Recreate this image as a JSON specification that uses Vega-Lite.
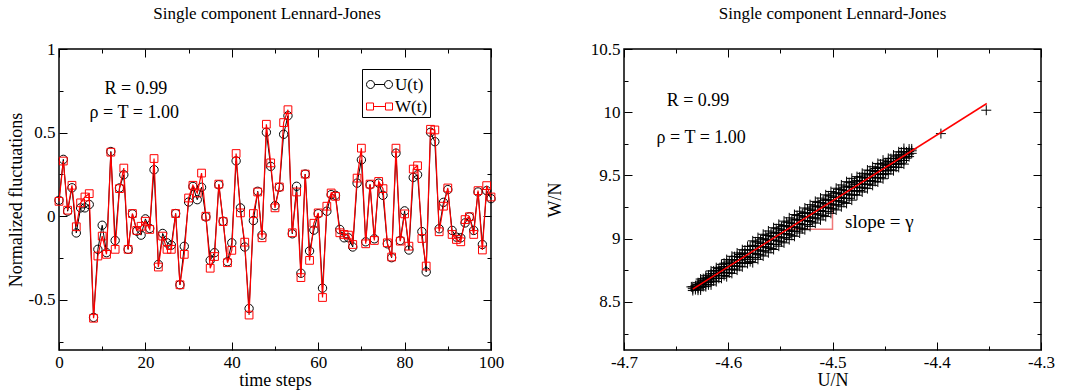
{
"$schema": "https://vega.github.io/schema/vega-lite/v6.json",
"background": "white",
"padding": {"left": 6, "top": 4, "right": 0, "bottom": 0},
"spacing": 40,
"config": {
  "font": "Liberation Serif",
  "view": {"stroke": "black", "strokeWidth": 1.5},
  "axis": {"grid": false, "domain": false, "labelFont": "Liberation Serif", "labelFontSize": 17, "labelColor": "black", "titleFont": "Liberation Serif", "titleFontSize": 18, "titleFontWeight": "normal", "titleColor": "black", "tickColor": "black", "tickWidth": 1, "labelFlush": false, "labelOverlap": false},
  "title": {"font": "Liberation Serif", "fontSize": 17, "fontWeight": "normal", "color": "black"}
},
"datasets": {
  "ts": [
    {"t":0,"U":0.095,"W":0.089},{"t":1,"U":0.34,"W":0.33},{"t":2,"U":0.03,"W":0.036},{"t":3,"U":0.17,"W":0.185},{"t":4,"U":-0.1,"W":-0.063},
    {"t":5,"U":0.05,"W":0.08},{"t":6,"U":0.05,"W":0.115},{"t":7,"U":0.07,"W":0.135},{"t":8,"U":-0.605,"W":-0.61},{"t":9,"U":-0.198,"W":-0.238},
    {"t":10,"U":-0.054,"W":-0.119},{"t":11,"U":-0.218,"W":-0.228},{"t":12,"U":0.387,"W":0.383},{"t":13,"U":-0.145,"W":-0.198},{"t":14,"U":0.169,"W":0.165},
    {"t":15,"U":0.248,"W":0.288},{"t":16,"U":-0.198,"W":-0.198},{"t":17,"U":0.014,"W":0.016},{"t":18,"U":-0.089,"W":-0.085},{"t":19,"U":-0.113,"W":-0.06},
    {"t":20,"U":-0.016,"W":-0.03},{"t":21,"U":-0.073,"W":-0.079},{"t":22,"U":0.278,"W":0.345},{"t":23,"U":-0.288,"W":-0.304},{"t":24,"U":-0.103,"W":-0.119},
    {"t":25,"U":-0.159,"W":-0.198},{"t":26,"U":-0.173,"W":-0.198},{"t":27,"U":0.016,"W":0.016},{"t":28,"U":-0.41,"W":-0.41},{"t":29,"U":-0.18,"W":-0.228},
    {"t":30,"U":0.085,"W":0.109},{"t":31,"U":0.178,"W":0.185},{"t":32,"U":0.099,"W":0.139},{"t":33,"U":0.173,"W":0.258},{"t":34,"U":-0.004,"W":0.0},
    {"t":35,"U":-0.264,"W":-0.311},{"t":36,"U":-0.218,"W":-0.241},{"t":37,"U":0.188,"W":0.192},{"t":38,"U":-0.03,"W":-0.032},{"t":39,"U":-0.272,"W":-0.278},
    {"t":40,"U":-0.159,"W":-0.204},{"t":41,"U":0.331,"W":0.375},{"t":42,"U":0.05,"W":0.02},{"t":43,"U":-0.184,"W":-0.155},{"t":44,"U":-0.552,"W":-0.591},
    {"t":45,"U":-0.026,"W":0.016},{"t":46,"U":0.149,"W":0.145},{"t":47,"U":-0.113,"W":-0.129},{"t":48,"U":0.502,"W":0.55},{"t":49,"U":0.298,"W":0.319},
    {"t":50,"U":0.063,"W":0.05},{"t":51,"U":0.173,"W":0.175},{"t":52,"U":0.49,"W":0.56},{"t":53,"U":0.601,"W":0.637},{"t":54,"U":-0.105,"W":-0.099},
    {"t":55,"U":0.179,"W":0.145},{"t":56,"U":-0.341,"W":-0.367},{"t":57,"U":0.252,"W":0.252},{"t":58,"U":-0.208,"W":-0.264},{"t":59,"U":-0.083,"W":-0.042},
    {"t":60,"U":0.015,"W":0.02},{"t":61,"U":-0.43,"W":-0.486},{"t":62,"U":0.03,"W":0.06},{"t":63,"U":0.129,"W":0.139},{"t":64,"U":0.125,"W":0.119},
    {"t":65,"U":-0.079,"W":-0.099},{"t":66,"U":-0.129,"W":-0.109},{"t":67,"U":-0.129,"W":-0.113},{"t":68,"U":-0.184,"W":-0.169},{"t":69,"U":0.198,"W":0.228},
    {"t":70,"U":0.337,"W":0.407},{"t":71,"U":-0.153,"W":-0.165},{"t":72,"U":0.188,"W":0.192},{"t":73,"U":-0.135,"W":-0.145},{"t":74,"U":0.198,"W":0.208},
    {"t":75,"U":0.125,"W":0.165},{"t":76,"U":-0.165,"W":-0.159},{"t":77,"U":-0.248,"W":-0.244},{"t":78,"U":0.377,"W":0.407},{"t":79,"U":-0.145,"W":-0.149},
    {"t":80,"U":0.032,"W":0.014},{"t":81,"U":-0.202,"W":-0.179},{"t":82,"U":0.232,"W":0.282},{"t":83,"U":0.248,"W":0.302},{"t":84,"U":-0.092,"W":-0.133},
    {"t":85,"U":-0.333,"W":-0.298},{"t":86,"U":0.502,"W":0.52},{"t":87,"U":0.446,"W":0.516},{"t":88,"U":-0.075,"W":-0.093},{"t":89,"U":0.083,"W":0.06},
    {"t":90,"U":0.159,"W":0.169},{"t":91,"U":-0.085,"W":-0.109},{"t":92,"U":-0.125,"W":-0.139},{"t":93,"U":-0.129,"W":-0.153},{"t":94,"U":-0.04,"W":-0.02},
    {"t":95,"U":-0.004,"W":-0.003},{"t":96,"U":-0.085,"W":-0.109},{"t":97,"U":0.145,"W":0.153},{"t":98,"U":-0.169,"W":-0.202},{"t":99,"U":0.153,"W":0.183},
    {"t":100,"U":0.105,"W":0.115}
  ],
  "cloud": [
    {"u":-4.6354,"w":8.619},{"u":-4.628,"w":8.64},{"u":-4.634,"w":8.59},{"u":-4.634,"w":8.605},{"u":-4.634,"w":8.62},
    {"u":-4.629,"w":8.593},{"u":-4.629,"w":8.608},{"u":-4.629,"w":8.624},{"u":-4.629,"w":8.638},{"u":-4.629,"w":8.652},
    {"u":-4.624,"w":8.622},{"u":-4.624,"w":8.638},{"u":-4.624,"w":8.652},{"u":-4.624,"w":8.668},{"u":-4.624,"w":8.684},
    {"u":-4.619,"w":8.635},{"u":-4.619,"w":8.655},{"u":-4.619,"w":8.676},{"u":-4.619,"w":8.694},{"u":-4.619,"w":8.712},
    {"u":-4.614,"w":8.666},{"u":-4.614,"w":8.686},{"u":-4.614,"w":8.704},{"u":-4.614,"w":8.724},{"u":-4.614,"w":8.745},
    {"u":-4.609,"w":8.687},{"u":-4.609,"w":8.707},{"u":-4.609,"w":8.728},{"u":-4.609,"w":8.746},{"u":-4.609,"w":8.764},
    {"u":-4.604,"w":8.709},{"u":-4.604,"w":8.734},{"u":-4.604,"w":8.756},{"u":-4.604,"w":8.781},{"u":-4.604,"w":8.806},
    {"u":-4.599,"w":8.730},{"u":-4.599,"w":8.754},{"u":-4.599,"w":8.779},{"u":-4.599,"w":8.801},{"u":-4.599,"w":8.823},
    {"u":-4.594,"w":8.761},{"u":-4.594,"w":8.786},{"u":-4.594,"w":8.808},{"u":-4.594,"w":8.833},{"u":-4.594,"w":8.858},
    {"u":-4.589,"w":8.782},{"u":-4.589,"w":8.806},{"u":-4.589,"w":8.831},{"u":-4.589,"w":8.853},{"u":-4.589,"w":8.875},
    {"u":-4.584,"w":8.813},{"u":-4.584,"w":8.838},{"u":-4.584,"w":8.860},{"u":-4.584,"w":8.885},{"u":-4.584,"w":8.910},
    {"u":-4.579,"w":8.819},{"u":-4.579,"w":8.851},{"u":-4.579,"w":8.882},{"u":-4.579,"w":8.911},{"u":-4.579,"w":8.939},
    {"u":-4.574,"w":8.852},{"u":-4.574,"w":8.884},{"u":-4.574,"w":8.912},{"u":-4.574,"w":8.944},{"u":-4.574,"w":8.975},
    {"u":-4.569,"w":8.871},{"u":-4.569,"w":8.903},{"u":-4.569,"w":8.934},{"u":-4.569,"w":8.963},{"u":-4.569,"w":8.991},
    {"u":-4.564,"w":8.904},{"u":-4.564,"w":8.936},{"u":-4.564,"w":8.964},{"u":-4.564,"w":8.996},{"u":-4.564,"w":9.027},
    {"u":-4.559,"w":8.923},{"u":-4.559,"w":8.955},{"u":-4.559,"w":8.986},{"u":-4.559,"w":9.015},{"u":-4.559,"w":9.043},
    {"u":-4.554,"w":8.956},{"u":-4.554,"w":8.988},{"u":-4.554,"w":9.016},{"u":-4.554,"w":9.048},{"u":-4.554,"w":9.079},
    {"u":-4.549,"w":8.975},{"u":-4.549,"w":9.007},{"u":-4.549,"w":9.038},{"u":-4.549,"w":9.067},{"u":-4.549,"w":9.095},
    {"u":-4.544,"w":9.008},{"u":-4.544,"w":9.040},{"u":-4.544,"w":9.068},{"u":-4.544,"w":9.100},{"u":-4.544,"w":9.131},
    {"u":-4.539,"w":9.027},{"u":-4.539,"w":9.059},{"u":-4.539,"w":9.090},{"u":-4.539,"w":9.119},{"u":-4.539,"w":9.147},
    {"u":-4.534,"w":9.060},{"u":-4.534,"w":9.092},{"u":-4.534,"w":9.120},{"u":-4.534,"w":9.152},{"u":-4.534,"w":9.183},
    {"u":-4.529,"w":9.079},{"u":-4.529,"w":9.111},{"u":-4.529,"w":9.142},{"u":-4.529,"w":9.171},{"u":-4.529,"w":9.199},
    {"u":-4.524,"w":9.112},{"u":-4.524,"w":9.144},{"u":-4.524,"w":9.172},{"u":-4.524,"w":9.204},{"u":-4.524,"w":9.235},
    {"u":-4.519,"w":9.131},{"u":-4.519,"w":9.163},{"u":-4.519,"w":9.194},{"u":-4.519,"w":9.223},{"u":-4.519,"w":9.251},
    {"u":-4.514,"w":9.164},{"u":-4.514,"w":9.196},{"u":-4.514,"w":9.224},{"u":-4.514,"w":9.256},{"u":-4.514,"w":9.287},
    {"u":-4.509,"w":9.183},{"u":-4.509,"w":9.215},{"u":-4.509,"w":9.246},{"u":-4.509,"w":9.275},{"u":-4.509,"w":9.303},
    {"u":-4.504,"w":9.216},{"u":-4.504,"w":9.248},{"u":-4.504,"w":9.276},{"u":-4.504,"w":9.308},{"u":-4.504,"w":9.339},
    {"u":-4.499,"w":9.235},{"u":-4.499,"w":9.267},{"u":-4.499,"w":9.298},{"u":-4.499,"w":9.327},{"u":-4.499,"w":9.355},
    {"u":-4.494,"w":9.268},{"u":-4.494,"w":9.300},{"u":-4.494,"w":9.328},{"u":-4.494,"w":9.360},{"u":-4.494,"w":9.391},
    {"u":-4.489,"w":9.287},{"u":-4.489,"w":9.319},{"u":-4.489,"w":9.350},{"u":-4.489,"w":9.379},{"u":-4.489,"w":9.407},
    {"u":-4.484,"w":9.320},{"u":-4.484,"w":9.352},{"u":-4.484,"w":9.380},{"u":-4.484,"w":9.412},{"u":-4.484,"w":9.443},
    {"u":-4.479,"w":9.349},{"u":-4.479,"w":9.376},{"u":-4.479,"w":9.403},{"u":-4.479,"w":9.427},{"u":-4.479,"w":9.451},
    {"u":-4.474,"w":9.381},{"u":-4.474,"w":9.408},{"u":-4.474,"w":9.432},{"u":-4.474,"w":9.459},{"u":-4.474,"w":9.486},
    {"u":-4.469,"w":9.401},{"u":-4.469,"w":9.428},{"u":-4.469,"w":9.455},{"u":-4.469,"w":9.479},{"u":-4.469,"w":9.503},
    {"u":-4.464,"w":9.433},{"u":-4.464,"w":9.460},{"u":-4.464,"w":9.484},{"u":-4.464,"w":9.511},{"u":-4.464,"w":9.538},
    {"u":-4.459,"w":9.453},{"u":-4.459,"w":9.480},{"u":-4.459,"w":9.507},{"u":-4.459,"w":9.531},{"u":-4.459,"w":9.555},
    {"u":-4.454,"w":9.485},{"u":-4.454,"w":9.512},{"u":-4.454,"w":9.536},{"u":-4.454,"w":9.563},{"u":-4.454,"w":9.590},
    {"u":-4.449,"w":9.514},{"u":-4.449,"w":9.537},{"u":-4.449,"w":9.560},{"u":-4.449,"w":9.580},{"u":-4.449,"w":9.600},
    {"u":-4.444,"w":9.545},{"u":-4.444,"w":9.568},{"u":-4.444,"w":9.588},{"u":-4.444,"w":9.611},{"u":-4.444,"w":9.633},
    {"u":-4.439,"w":9.566},{"u":-4.439,"w":9.589},{"u":-4.439,"w":9.612},{"u":-4.439,"w":9.632},{"u":-4.439,"w":9.652},
    {"u":-4.434,"w":9.597},{"u":-4.434,"w":9.620},{"u":-4.434,"w":9.640},{"u":-4.434,"w":9.663},{"u":-4.434,"w":9.685},
    {"u":-4.429,"w":9.637},{"u":-4.429,"w":9.651},{"u":-4.429,"w":9.671},{"u":-4.429,"w":9.686},
    {"u":-4.424,"w":9.675},{"u":-4.424,"w":9.695},{"u":-4.424,"w":9.710},
    {"u":-4.396,"w":9.831},{"u":-4.3525,"w":10.016},
    {"u":-4.6315,"w":8.598},{"u":-4.6315,"w":8.613},{"u":-4.6315,"w":8.628},
    {"u":-4.6265,"w":8.595},{"u":-4.6265,"w":8.614},{"u":-4.6265,"w":8.632},{"u":-4.6265,"w":8.646},{"u":-4.6265,"w":8.664},{"u":-4.6265,"w":8.681},
    {"u":-4.6215,"w":8.621},{"u":-4.6215,"w":8.640},{"u":-4.6215,"w":8.658},{"u":-4.6215,"w":8.672},{"u":-4.6215,"w":8.690},{"u":-4.6215,"w":8.707},
    {"u":-4.6165,"w":8.635},{"u":-4.6165,"w":8.659},{"u":-4.6165,"w":8.682},{"u":-4.6165,"w":8.700},{"u":-4.6165,"w":8.723},{"u":-4.6165,"w":8.745},
    {"u":-4.6115,"w":8.661},{"u":-4.6115,"w":8.685},{"u":-4.6115,"w":8.708},{"u":-4.6115,"w":8.726},{"u":-4.6115,"w":8.749},{"u":-4.6115,"w":8.771},
    {"u":-4.6065,"w":8.687},{"u":-4.6065,"w":8.711},{"u":-4.6065,"w":8.734},{"u":-4.6065,"w":8.752},{"u":-4.6065,"w":8.775},{"u":-4.6065,"w":8.797},
    {"u":-4.6015,"w":8.700},{"u":-4.6015,"w":8.730},{"u":-4.6015,"w":8.758},{"u":-4.6015,"w":8.780},{"u":-4.6015,"w":8.808},{"u":-4.6015,"w":8.835},
    {"u":-4.5965,"w":8.726},{"u":-4.5965,"w":8.756},{"u":-4.5965,"w":8.784},{"u":-4.5965,"w":8.806},{"u":-4.5965,"w":8.834},{"u":-4.5965,"w":8.861},
    {"u":-4.5915,"w":8.752},{"u":-4.5915,"w":8.782},{"u":-4.5915,"w":8.810},{"u":-4.5915,"w":8.832},{"u":-4.5915,"w":8.860},{"u":-4.5915,"w":8.887},
    {"u":-4.5865,"w":8.778},{"u":-4.5865,"w":8.808},{"u":-4.5865,"w":8.836},{"u":-4.5865,"w":8.858},{"u":-4.5865,"w":8.886},{"u":-4.5865,"w":8.913},
    {"u":-4.5815,"w":8.804},{"u":-4.5815,"w":8.834},{"u":-4.5815,"w":8.862},{"u":-4.5815,"w":8.884},{"u":-4.5815,"w":8.912},{"u":-4.5815,"w":8.939},
    {"u":-4.5765,"w":8.811},{"u":-4.5765,"w":8.850},{"u":-4.5765,"w":8.885},{"u":-4.5765,"w":8.913},{"u":-4.5765,"w":8.948},{"u":-4.5765,"w":8.983},
    {"u":-4.5715,"w":8.837},{"u":-4.5715,"w":8.876},{"u":-4.5715,"w":8.911},{"u":-4.5715,"w":8.939},{"u":-4.5715,"w":8.974},{"u":-4.5715,"w":9.009},
    {"u":-4.5665,"w":8.863},{"u":-4.5665,"w":8.902},{"u":-4.5665,"w":8.937},{"u":-4.5665,"w":8.965},{"u":-4.5665,"w":9.000},{"u":-4.5665,"w":9.035},
    {"u":-4.5615,"w":8.889},{"u":-4.5615,"w":8.928},{"u":-4.5615,"w":8.963},{"u":-4.5615,"w":8.991},{"u":-4.5615,"w":9.026},{"u":-4.5615,"w":9.061},
    {"u":-4.5565,"w":8.915},{"u":-4.5565,"w":8.954},{"u":-4.5565,"w":8.989},{"u":-4.5565,"w":9.017},{"u":-4.5565,"w":9.052},{"u":-4.5565,"w":9.087},
    {"u":-4.5515,"w":8.941},{"u":-4.5515,"w":8.980},{"u":-4.5515,"w":9.015},{"u":-4.5515,"w":9.043},{"u":-4.5515,"w":9.078},{"u":-4.5515,"w":9.113},
    {"u":-4.5465,"w":8.967},{"u":-4.5465,"w":9.006},{"u":-4.5465,"w":9.041},{"u":-4.5465,"w":9.069},{"u":-4.5465,"w":9.104},{"u":-4.5465,"w":9.139},
    {"u":-4.5415,"w":8.993},{"u":-4.5415,"w":9.032},{"u":-4.5415,"w":9.067},{"u":-4.5415,"w":9.095},{"u":-4.5415,"w":9.130},{"u":-4.5415,"w":9.165},
    {"u":-4.5365,"w":9.019},{"u":-4.5365,"w":9.058},{"u":-4.5365,"w":9.093},{"u":-4.5365,"w":9.121},{"u":-4.5365,"w":9.156},{"u":-4.5365,"w":9.191},
    {"u":-4.5315,"w":9.045},{"u":-4.5315,"w":9.084},{"u":-4.5315,"w":9.119},{"u":-4.5315,"w":9.147},{"u":-4.5315,"w":9.182},{"u":-4.5315,"w":9.217},
    {"u":-4.5265,"w":9.071},{"u":-4.5265,"w":9.110},{"u":-4.5265,"w":9.145},{"u":-4.5265,"w":9.173},{"u":-4.5265,"w":9.208},{"u":-4.5265,"w":9.243},
    {"u":-4.5215,"w":9.097},{"u":-4.5215,"w":9.136},{"u":-4.5215,"w":9.171},{"u":-4.5215,"w":9.199},{"u":-4.5215,"w":9.234},{"u":-4.5215,"w":9.269},
    {"u":-4.5165,"w":9.123},{"u":-4.5165,"w":9.162},{"u":-4.5165,"w":9.197},{"u":-4.5165,"w":9.225},{"u":-4.5165,"w":9.260},{"u":-4.5165,"w":9.295},
    {"u":-4.5115,"w":9.149},{"u":-4.5115,"w":9.188},{"u":-4.5115,"w":9.223},{"u":-4.5115,"w":9.251},{"u":-4.5115,"w":9.286},{"u":-4.5115,"w":9.321},
    {"u":-4.5065,"w":9.175},{"u":-4.5065,"w":9.214},{"u":-4.5065,"w":9.249},{"u":-4.5065,"w":9.277},{"u":-4.5065,"w":9.312},{"u":-4.5065,"w":9.347},
    {"u":-4.5015,"w":9.201},{"u":-4.5015,"w":9.240},{"u":-4.5015,"w":9.275},{"u":-4.5015,"w":9.303},{"u":-4.5015,"w":9.338},{"u":-4.5015,"w":9.373},
    {"u":-4.4965,"w":9.227},{"u":-4.4965,"w":9.266},{"u":-4.4965,"w":9.301},{"u":-4.4965,"w":9.329},{"u":-4.4965,"w":9.364},{"u":-4.4965,"w":9.399},
    {"u":-4.4915,"w":9.253},{"u":-4.4915,"w":9.292},{"u":-4.4915,"w":9.327},{"u":-4.4915,"w":9.355},{"u":-4.4915,"w":9.390},{"u":-4.4915,"w":9.425},
    {"u":-4.4865,"w":9.279},{"u":-4.4865,"w":9.318},{"u":-4.4865,"w":9.353},{"u":-4.4865,"w":9.381},{"u":-4.4865,"w":9.416},{"u":-4.4865,"w":9.451},
    {"u":-4.4815,"w":9.305},{"u":-4.4815,"w":9.344},{"u":-4.4815,"w":9.379},{"u":-4.4815,"w":9.407},{"u":-4.4815,"w":9.442},{"u":-4.4815,"w":9.477},
    {"u":-4.4765,"w":9.344},{"u":-4.4765,"w":9.377},{"u":-4.4765,"w":9.407},{"u":-4.4765,"w":9.431},{"u":-4.4765,"w":9.461},{"u":-4.4765,"w":9.491},
    {"u":-4.4715,"w":9.370},{"u":-4.4715,"w":9.403},{"u":-4.4715,"w":9.433},{"u":-4.4715,"w":9.457},{"u":-4.4715,"w":9.487},{"u":-4.4715,"w":9.517},
    {"u":-4.4665,"w":9.396},{"u":-4.4665,"w":9.429},{"u":-4.4665,"w":9.459},{"u":-4.4665,"w":9.483},{"u":-4.4665,"w":9.513},{"u":-4.4665,"w":9.543},
    {"u":-4.4615,"w":9.422},{"u":-4.4615,"w":9.455},{"u":-4.4615,"w":9.485},{"u":-4.4615,"w":9.509},{"u":-4.4615,"w":9.539},{"u":-4.4615,"w":9.569},
    {"u":-4.4565,"w":9.448},{"u":-4.4565,"w":9.481},{"u":-4.4565,"w":9.511},{"u":-4.4565,"w":9.535},{"u":-4.4565,"w":9.565},{"u":-4.4565,"w":9.595},
    {"u":-4.4515,"w":9.474},{"u":-4.4515,"w":9.507},{"u":-4.4515,"w":9.537},{"u":-4.4515,"w":9.561},{"u":-4.4515,"w":9.591},{"u":-4.4515,"w":9.621},
    {"u":-4.4465,"w":9.512},{"u":-4.4465,"w":9.540},{"u":-4.4465,"w":9.565},{"u":-4.4465,"w":9.585},{"u":-4.4465,"w":9.610},{"u":-4.4465,"w":9.635},
    {"u":-4.4415,"w":9.538},{"u":-4.4415,"w":9.566},{"u":-4.4415,"w":9.591},{"u":-4.4415,"w":9.611},{"u":-4.4415,"w":9.636},{"u":-4.4415,"w":9.661},
    {"u":-4.4365,"w":9.564},{"u":-4.4365,"w":9.592},{"u":-4.4365,"w":9.617},{"u":-4.4365,"w":9.637},{"u":-4.4365,"w":9.662},{"u":-4.4365,"w":9.687},
    {"u":-4.4315,"w":9.590},{"u":-4.4315,"w":9.618},{"u":-4.4315,"w":9.643},{"u":-4.4315,"w":9.663},{"u":-4.4315,"w":9.688},{"u":-4.4315,"w":9.713},
    {"u":-4.4265,"w":9.649},{"u":-4.4265,"w":9.669},{"u":-4.4265,"w":9.689},{"u":-4.4265,"w":9.709}
  ]
},
"hconcat": [
  {
    "width": 432, "height": 301,
    "title": {"text": "Single component Lennard-Jones", "offset": 17, "dx": -8},
    "layer": [
      {
        "data": {"name": "ts"},
        "transform": [{"fold": ["U", "W"], "as": ["s", "v"]}, {"filter": "datum.s === 'U'"}],
        "mark": {"type": "line", "strokeWidth": 1},
        "encoding": {
          "x": {"field": "t", "type": "quantitative", "scale": {"domain": [0, 100], "nice": false, "zero": false},
                "axis": {"orient": "bottom", "title": "time steps", "values": [0,10,20,30,40,50,60,70,80,90,100],
                         "tickSize": {"condition": {"test": "datum.value % 20 === 0", "value": -8}, "value": -4},
                         "labelExpr": "datum.value % 20 === 0 ? '' + datum.value : ''", "labelPadding": 12, "titlePadding": 1, "minExtent": 20, "maxExtent": 20}},
          "y": {"field": "v", "type": "quantitative", "scale": {"domain": [-0.8, 1], "nice": false, "zero": false},
                "axis": {"orient": "left", "title": "Normalized fluctuations", "values": [-0.75,-0.5,-0.25,0,0.25,0.5,0.75,1],
                         "tickSize": {"condition": {"test": "datum.value % 0.5 === 0", "value": -8}, "value": -4},
                         "labelExpr": "datum.value % 0.5 === 0 ? '' + datum.value : ''", "labelPadding": 12, "titlePadding": 4, "minExtent": 30, "maxExtent": 30}},
          "color": {"field": "s", "type": "nominal", "scale": {"domain": ["U", "W"], "range": ["black", "red"]},
                    "legend": {"orient": "none", "legendX": 303, "legendY": 20, "title": null, "strokeColor": "black", "fillColor": "white",
                               "padding": 2, "symbolSize": 676, "symbolStrokeWidth": 1, "rowPadding": -7, "symbolOffset": 2,
                               "labelFont": "Liberation Serif", "labelFontSize": 17, "labelColor": "black", "labelOffset": 2,
                               "labelExpr": "datum.label + '(t)'",
                               "encode": {"symbols": {"update": {
                                  "shape": {"signal": "datum.value === 'U' ? 'M-1,0A0.3077,0.3077 0 1,1 -0.3846,0A0.3077,0.3077 0 1,1 -1,0ZM-0.3846,0L0.3846,0M0.3846,0A0.3077,0.3077 0 1,1 1,0A0.3077,0.3077 0 1,1 0.3846,0Z' : 'M-1,-0.27L-0.46,-0.27L-0.46,0.27L-1,0.27ZM-0.46,0L0.46,0M0.46,-0.27L1,-0.27L1,0.27L0.46,0.27Z'"},
                                  "fill": {"value": "transparent"}}}}}}
        }
      },
      {
        "data": {"name": "ts"},
        "transform": [{"fold": ["U", "W"], "as": ["s", "v"]}, {"filter": "datum.s === 'U'"}],
        "mark": {"type": "point", "shape": "circle", "filled": false, "size": 70, "strokeWidth": 1, "opacity": 1},
        "encoding": {
          "x": {"field": "t", "type": "quantitative", "scale": {"domain": [0, 100], "nice": false, "zero": false}, "axis": null},
          "y": {"field": "v", "type": "quantitative", "scale": {"domain": [-0.8, 1], "nice": false, "zero": false}, "axis": null},
          "color": {"field": "s", "type": "nominal", "scale": {"domain": ["U", "W"], "range": ["black", "red"]}}
        }
      },
      {
        "data": {"name": "ts"},
        "transform": [{"fold": ["U", "W"], "as": ["s", "v"]}, {"filter": "datum.s === 'W'"}],
        "mark": {"type": "line", "strokeWidth": 1.2},
        "encoding": {
          "x": {"field": "t", "type": "quantitative", "scale": {"domain": [0, 100], "nice": false, "zero": false}, "axis": null},
          "y": {"field": "v", "type": "quantitative", "scale": {"domain": [-0.8, 1], "nice": false, "zero": false}, "axis": null},
          "color": {"field": "s", "type": "nominal", "scale": {"domain": ["U", "W"], "range": ["black", "red"]}}
        }
      },
      {
        "data": {"name": "ts"},
        "transform": [{"fold": ["U", "W"], "as": ["s", "v"]}, {"filter": "datum.s === 'W'"}],
        "mark": {"type": "point", "shape": "square", "filled": false, "size": 60, "strokeWidth": 1, "opacity": 1},
        "encoding": {
          "x": {"field": "t", "type": "quantitative", "scale": {"domain": [0, 100], "nice": false, "zero": false}, "axis": null},
          "y": {"field": "v", "type": "quantitative", "scale": {"domain": [-0.8, 1], "nice": false, "zero": false}, "axis": null},
          "color": {"field": "s", "type": "nominal", "scale": {"domain": ["U", "W"], "range": ["black", "red"]}}
        }
      },
      {
        "data": {"values": [{"t": 17.8, "v": 0.76, "label": "R = 0.99"}, {"t": 17.4, "v": 0.62, "label": "ρ = T = 1.00"}]},
        "mark": {"type": "text", "font": "Liberation Serif", "fontSize": 18, "color": "black", "align": "center", "baseline": "middle"},
        "encoding": {
          "x": {"field": "t", "type": "quantitative", "scale": {"domain": [0, 100], "nice": false, "zero": false},
                "axis": {"orient": "top", "title": null, "labels": false, "values": [0,10,20,30,40,50,60,70,80,90,100],
                         "tickSize": {"condition": {"test": "datum.value % 20 === 0", "value": -8}, "value": -4}, "minExtent": 0, "maxExtent": 0}},
          "y": {"field": "v", "type": "quantitative", "scale": {"domain": [-0.8, 1], "nice": false, "zero": false},
                "axis": {"orient": "right", "title": null, "labels": false, "values": [-0.75,-0.5,-0.25,0,0.25,0.5,0.75,1],
                         "tickSize": {"condition": {"test": "datum.value % 0.5 === 0", "value": -8}, "value": -4}, "minExtent": 0, "maxExtent": 0}},
          "text": {"field": "label"}
        }
      }
    ],
    "resolve": {"axis": {"x": "independent", "y": "independent"}}
  },
  {
    "width": 417, "height": 301,
    "title": {"text": "Single component Lennard-Jones", "offset": 17},
    "layer": [
      {
        "data": {"values": [{"i": 0, "u": -4.543, "w": 9.074}, {"i": 1, "u": -4.5, "w": 9.074}, {"i": 2, "u": -4.5, "w": 9.30}]},
        "mark": {"type": "line", "color": "#f07878", "strokeWidth": 1.5},
        "encoding": {
          "x": {"field": "u", "type": "quantitative", "scale": {"domain": [-4.7, -4.3], "nice": false, "zero": false},
                "axis": {"orient": "bottom", "title": "U/N", "values": [-4.7,-4.65,-4.6,-4.55,-4.5,-4.45,-4.4,-4.35,-4.3],
                         "tickSize": {"condition": {"test": "abs(datum.value*10 - round(datum.value*10)) < 0.01", "value": -8}, "value": -4},
                         "labelExpr": "abs(datum.value*10 - round(datum.value*10)) < 0.01 ? '' + datum.value : ''", "labelPadding": 12, "titlePadding": 1, "minExtent": 20, "maxExtent": 20}},
          "y": {"field": "w", "type": "quantitative", "scale": {"domain": [8.12, 10.5], "nice": false, "zero": false},
                "axis": {"orient": "left", "title": "W/N", "values": [8.25,8.5,8.75,9,9.25,9.5,9.75,10,10.25,10.5],
                         "tickSize": {"condition": {"test": "datum.value % 0.5 === 0", "value": -8}, "value": -4},
                         "labelExpr": "datum.value % 0.5 === 0 ? '' + datum.value : ''", "labelPadding": 12, "titlePadding": 4, "minExtent": 56, "maxExtent": 56}},
          "order": {"field": "i", "type": "quantitative"}
        }
      },
      {
        "data": {"name": "cloud"},
        "mark": {"type": "point", "shape": "M-1,0L1,0M0,-1L0,1", "filled": false, "size": 100, "strokeWidth": 1, "opacity": 1, "color": "black"},
        "encoding": {
          "x": {"field": "u", "type": "quantitative", "scale": {"domain": [-4.7, -4.3], "nice": false, "zero": false}, "axis": null},
          "y": {"field": "w", "type": "quantitative", "scale": {"domain": [8.12, 10.5], "nice": false, "zero": false}, "axis": null}
        }
      },
      {
        "data": {"values": [{"u": -4.634, "w": 8.601}, {"u": -4.352, "w": 10.069}]},
        "mark": {"type": "line", "color": "red", "strokeWidth": 1.5},
        "encoding": {
          "x": {"field": "u", "type": "quantitative", "scale": {"domain": [-4.7, -4.3], "nice": false, "zero": false}, "axis": null},
          "y": {"field": "w", "type": "quantitative", "scale": {"domain": [8.12, 10.5], "nice": false, "zero": false}, "axis": null}
        }
      },
      {
        "data": {"values": [{"u": -4.488, "w": 9.13, "label": "slope = γ"}]},
        "mark": {"type": "text", "font": "Liberation Serif", "fontSize": 19, "color": "black", "align": "left", "baseline": "middle"},
        "encoding": {
          "x": {"field": "u", "type": "quantitative", "scale": {"domain": [-4.7, -4.3], "nice": false, "zero": false}, "axis": null},
          "y": {"field": "w", "type": "quantitative", "scale": {"domain": [8.12, 10.5], "nice": false, "zero": false}, "axis": null},
          "text": {"field": "label"}
        }
      },
      {
        "data": {"values": [{"u": -4.629, "w": 10.087, "label": "R = 0.99"}, {"u": -4.626, "w": 9.80, "label": "ρ = T = 1.00"}]},
        "mark": {"type": "text", "font": "Liberation Serif", "fontSize": 18, "color": "black", "align": "center", "baseline": "middle"},
        "encoding": {
          "x": {"field": "u", "type": "quantitative", "scale": {"domain": [-4.7, -4.3], "nice": false, "zero": false},
                "axis": {"orient": "top", "title": null, "labels": false, "values": [-4.7,-4.65,-4.6,-4.55,-4.5,-4.45,-4.4,-4.35,-4.3],
                         "tickSize": {"condition": {"test": "abs(datum.value*10 - round(datum.value*10)) < 0.01", "value": -8}, "value": -4}, "minExtent": 0, "maxExtent": 0}},
          "y": {"field": "w", "type": "quantitative", "scale": {"domain": [8.12, 10.5], "nice": false, "zero": false},
                "axis": {"orient": "right", "title": null, "labels": false, "values": [8.25,8.5,8.75,9,9.25,9.5,9.75,10,10.25,10.5],
                         "tickSize": {"condition": {"test": "datum.value % 0.5 === 0", "value": -8}, "value": -4}, "minExtent": 0, "maxExtent": 0}},
          "text": {"field": "label"}
        }
      }
    ],
    "resolve": {"axis": {"x": "independent", "y": "independent"}}
  }
]
}
